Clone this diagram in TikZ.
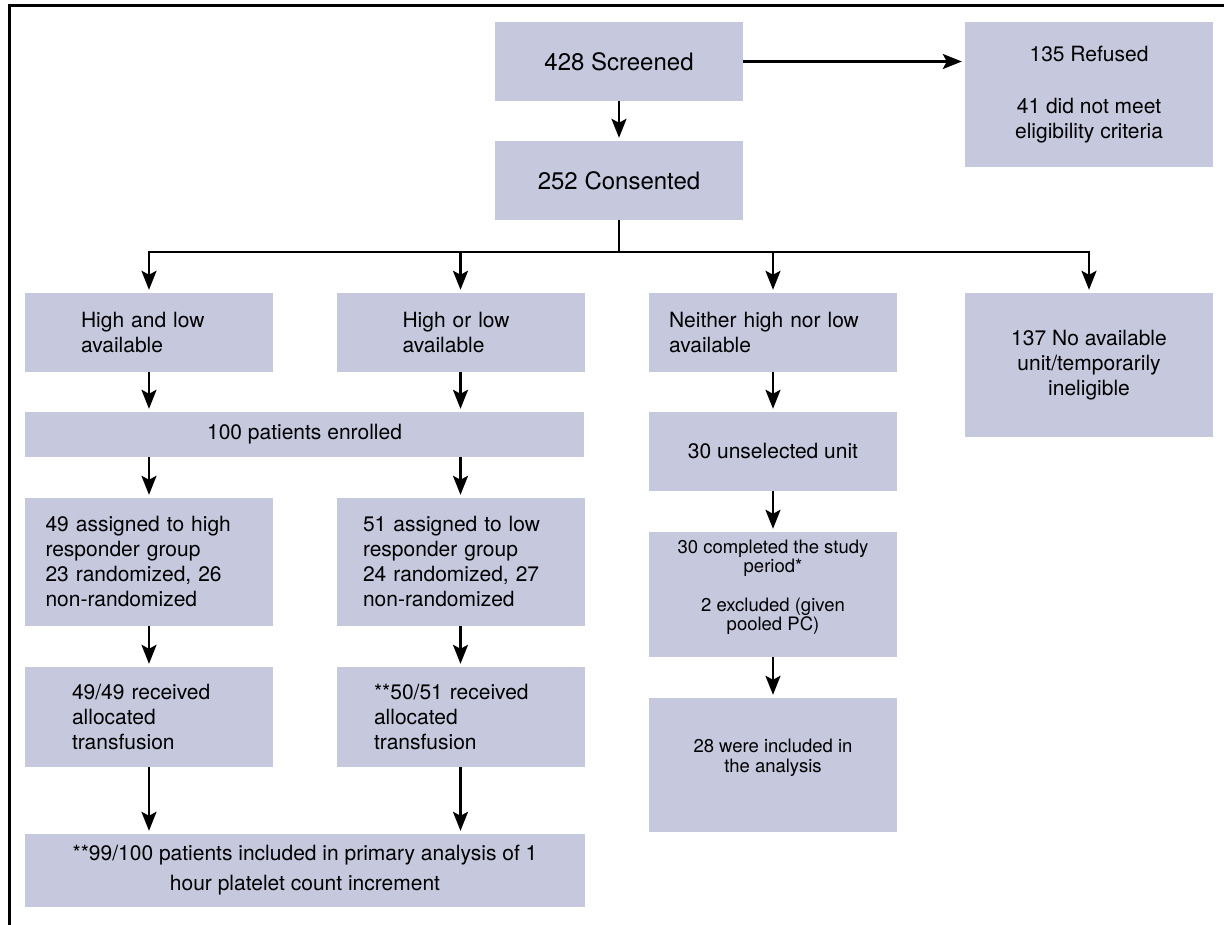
\documentclass[tikz,border=0pt]{standalone}
\usepackage{fontspec}
\setmainfont{TeX Gyre Heros}
\usetikzlibrary{arrows.meta}
\usepackage{xcolor}
\definecolor{boxgrey}{RGB}{198,200,221}
\tikzset{box/.style={fill=boxgrey, inner sep=0pt, align=center, minimum width=248pt,
                     font=\fontsize{21}{25}\selectfont},
         lbox/.style={box, align=left},
         sbox/.style={box, font=\fontsize{18.5}{19}\selectfont},
         big/.style={font=\fontsize{24}{29}\selectfont},
         wire/.style={line width=2.4pt},
         arr/.style={wire, -{Stealth[length=19pt, width=15pt, inset=4pt]}, shorten >=3pt}}

\begin{document}
\begin{tikzpicture}[x=1pt, y=-1pt]

        \useasboundingbox (0,0) rectangle (1224,925);

        % Frame
        \draw[line width=3pt] (9,925) -- (9,6) -- (1224,6);

        % Screening
        \node[box, big, minimum height=79pt] (screened) at (619,61.5) {428 Screened};
        \node[box, minimum height=145pt] (refused) at (1089,94.5) {135 Refused\\[27pt]41 did not meet\\eligibility criteria};
        \node[box, big, minimum height=79pt] (consented) at (619,180.5) {252 Consented};

        % Availability of units
        \node[lbox, minimum height=79pt, text width=136pt] (hilo) at (149,332.5) {High and low\\available};
        \node[lbox, minimum height=79pt, text width=116pt] (hiorlo) at (460.5,332.5) {High or low\\available};
        \node[lbox, minimum height=79pt, text width=208pt] (neither) at (773,332.5) {Neither high nor low\\available};
        \node[box, minimum height=144pt] (noavail) at (1089,365) {137 No available\\unit/temporarily\\ineligible};

        % Enrolment
        \node[box, minimum width=559pt, minimum height=45pt] (enrolled) at (304.5,434.5) {100 patients enrolled};
        \node[box, minimum height=79pt] (unselected) at (773,451.5) {30 unselected unit};

        % Groups
        \node[lbox, minimum height=128pt, text width=207pt] (highgrp) at (149,562) {49 assigned to high\\responder group\\23 randomized, 26\\non-randomized};
        \node[lbox, minimum height=128pt, text width=195pt] (lowgrp) at (460.5,562) {51 assigned to low\\responder group\\24 randomized, 27\\non-randomized};
        \node[sbox, minimum height=125pt, text depth=18pt] (completed) at (773,594.5) {30 completed the study\\period*\\[19.5pt]2 excluded (given\\pooled PC)};

        % Transfusions
        \node[lbox, minimum height=100pt, text width=154pt] (highrecv) at (149,717) {49/49 received\\allocated\\transfusion};
        \node[lbox, minimum height=100pt, text width=173pt] (lowrecv) at (460.5,717) {**50/51 received\\allocated\\transfusion};
        \node[sbox, font=\fontsize{18.5}{20.5}\selectfont, minimum height=134pt, text depth=18pt] (analysed) at (773,765) {28 were included in\\the analysis};

        % Primary analysis
        \node[box, minimum width=560pt, minimum height=73pt, font=\fontsize{21}{30}\selectfont] (primary) at (305,870.5) {**99/100 patients included in primary analysis of 1\\hour platelet count increment};

        % Arrows from the top
        \draw[arr] (screened) -- (consented);
        \draw[arr] (screened.east) -- (screened.east -| refused.west);
        \coordinate (split) at (619,252);
        \draw[wire] (consented) -- (split);
        \draw[wire, line cap=rect] (split -| hilo) -- (split -| noavail);
        \foreach \n in {hilo, hiorlo, neither, noavail}
            \draw[arr] (split -| \n) -- (\n);

        % Arrows down the columns
        \draw[arr] (hilo) -- (hilo |- enrolled.north);
        \draw[arr] (hiorlo) -- (hiorlo |- enrolled.north);
        \draw[arr] (neither) -- (unselected);
        \draw[arr] (enrolled.south -| highgrp) -- (highgrp);
        \draw[arr] (enrolled.south -| lowgrp) -- (lowgrp);
        \draw[arr] (unselected) -- (completed);
        \draw[arr] (highgrp) -- (highrecv);
        \draw[arr] (lowgrp) -- (lowrecv);
        \draw[arr] (completed) -- (analysed);
        \draw[arr] (highrecv) -- (highrecv |- primary.north);
        \draw[arr] (lowrecv) -- (lowrecv |- primary.north);

    \end{tikzpicture}
\end{document}
